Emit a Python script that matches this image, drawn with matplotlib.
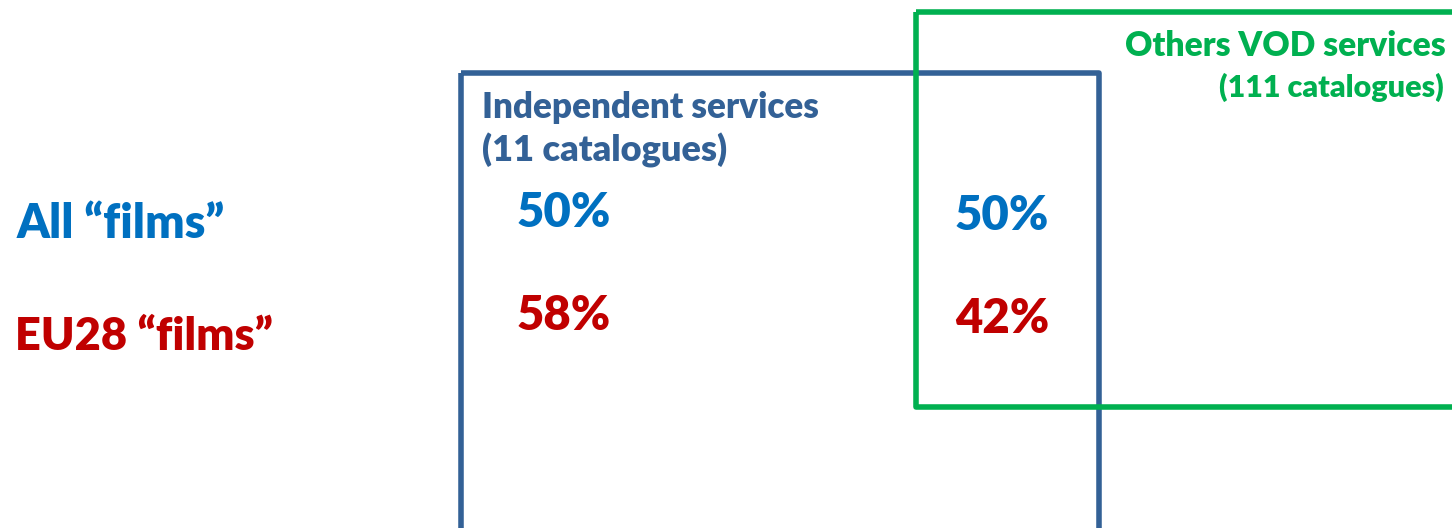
import matplotlib
matplotlib.use("Agg")
import matplotlib.pyplot as plt
from matplotlib.patches import Rectangle

# ── Data ──────────────────────────────────────────────────────────────────
row_labels = ["All \u201cfilms\u201d", "EU28 \u201cfilms\u201d"]
independent_share = ["50%", "58%"]
others_share = ["50%", "42%"]
independent_title = ["Independent services", "(11 catalogues)"]
others_title = ["Others VOD services", "(111 catalogues)"]

BLUE_TXT = "#0070C0"
RED_TXT = "#C00000"
NAVY = "#336196"
GREEN = "#00B050"
row_colors = [BLUE_TXT, RED_TXT]

plt.rcParams["font.family"] = ["Lato", "DejaVu Sans"]
WEIGHT = "heavy"

W, H = 1452, 528
fig = plt.figure(figsize=(W / 100, H / 100), dpi=100)
ax = fig.add_axes([0, 0, 1, 1])
ax.set_xlim(0, W)
ax.set_ylim(H, 0)
ax.axis("off")

# ── Boxes ─────────────────────────────────────────────────────────────────
ax.add_patch(Rectangle((461, 73), 638, 458, fill=False, edgecolor=NAVY,
                       linewidth=4.0, joinstyle="round", zorder=2))
ax.add_patch(Rectangle((916, 12), 560, 395, fill=False, edgecolor=GREEN,
                       linewidth=4.0, joinstyle="round", zorder=3))

# ── Box titles ────────────────────────────────────────────────────────────
ax.text(482, 118, independent_title[0], color=NAVY, fontsize=25.2,
        fontweight=WEIGHT, va="baseline", ha="left")
ax.text(482, 162, independent_title[1], color=NAVY, fontsize=26,
        fontweight=WEIGHT, va="baseline", ha="left")
ax.text(1446, 56, others_title[0], color=GREEN, fontsize=24.2,
        fontweight=WEIGHT, va="baseline", ha="right")
ax.text(1444, 97, others_title[1], color=GREEN, fontsize=22,
        fontweight=WEIGHT, va="baseline", ha="right")

# ── Rows ──────────────────────────────────────────────────────────────────
row_y = [238, 350]
row_x = [17, 15]
row_size = [33.5, 32.5]
pct_y = [227, 330]
for i, lab in enumerate(row_labels):
    ax.text(row_x[i], row_y[i], lab, color=row_colors[i], fontsize=row_size[i],
            fontweight=WEIGHT, va="baseline", ha="left")
    ax.text(564, pct_y[i], independent_share[i], color=row_colors[i],
            fontsize=34, fontweight=WEIGHT, va="baseline", ha="center")
    ax.text(1002, pct_y[i] + 3, others_share[i], color=row_colors[i],
            fontsize=34, fontweight=WEIGHT, va="baseline", ha="center")

fig.savefig("out.png", dpi=100)
